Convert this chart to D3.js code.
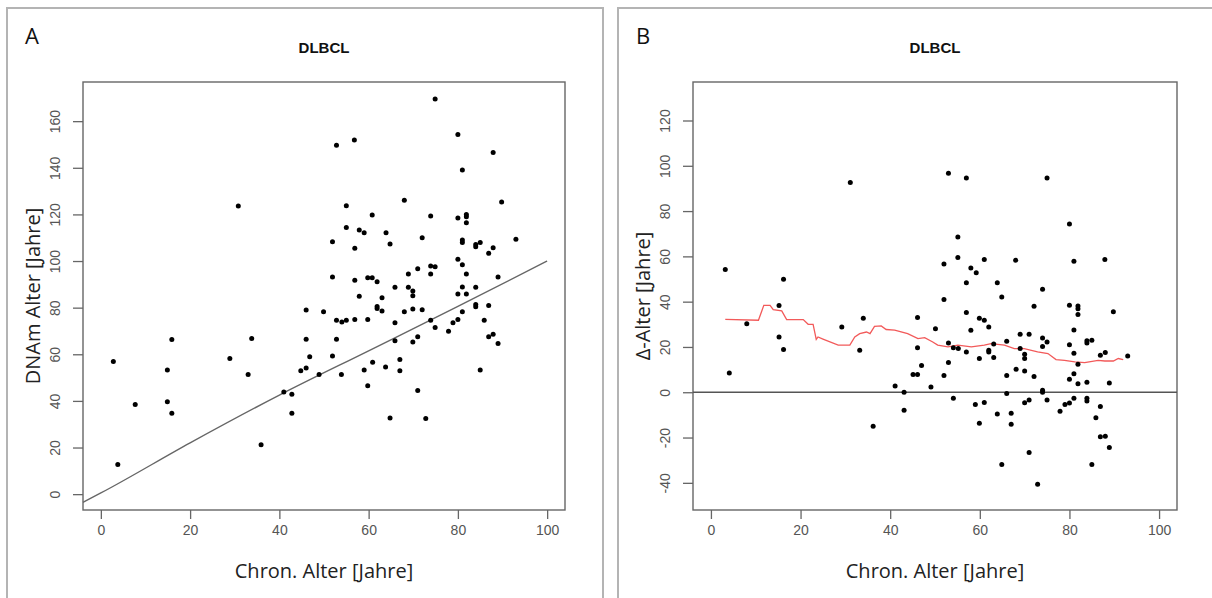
<!DOCTYPE html>
<html>
<head>
<meta charset="utf-8">
<script src="https://cdn.jsdelivr.net/npm/d3@7/dist/d3.min.js"></script>
<style>
  html, body { margin: 0; padding: 0; background: #fff; }
  svg { display: block; }
</style>
</head>
<body>
<svg id="chart" width="1212" height="598"></svg>
<script>
// DLBCL: chronological age vs. DNAm age (A) and age difference (B)

// Panel A: chronological age and DNAm age per sample
const chronAgeA = [2.8, 3.8, 7.7, 14.9, 14.9, 15.9, 15.9, 28.9, 30.8, 33.0, 33.8, 35.9, 41.0, 42.8, 42.8, 44.8, 46.0, 46.0, 46.0, 46.8,
  48.9, 49.9, 51.9, 51.9, 51.9, 52.8, 52.8, 52.8, 53.9, 54.0, 55.0, 55.0, 55.0, 56.8, 56.9, 56.9, 56.9, 57.9, 57.9, 59.0,
  59.0, 59.8, 59.8, 59.8, 60.8, 60.8, 60.9, 61.9, 61.9, 61.9, 63.0, 63.0, 63.8, 63.9, 64.8, 64.8, 65.9, 65.9, 65.9, 67.0,
  67.0, 68.0, 68.0, 68.9, 68.9, 69.9, 69.9, 69.9, 69.9, 71.0, 71.0, 71.0, 72.0, 72.0, 72.8, 73.9, 73.9, 73.9, 73.9, 74.9,
  74.9, 74.9, 77.9, 78.9, 80.0, 80.0, 80.0, 80.0, 80.0, 81.0, 81.0, 81.0, 81.0, 81.0, 81.0, 81.9, 81.9, 81.9, 81.9, 81.9,
  84.0, 84.0, 84.0, 84.0, 84.0, 85.0, 85.0, 85.9, 86.9, 86.9, 86.9, 87.9, 87.9, 87.9, 89.0, 89.0, 89.8, 93.0];
const dnamAge = [56.9, 12.7, 38.5, 53.3, 39.6, 66.3, 34.7, 58.2, 123.6, 51.3, 66.8, 21.2, 43.8, 42.9, 34.7, 52.9, 54.1, 66.4, 79.0, 58.9,
  51.3, 78.2, 59.3, 93.1, 108.3, 74.6, 66.4, 149.7, 51.3, 73.9, 74.6, 114.4, 123.7, 151.9, 105.5, 91.8, 74.9, 113.3, 84.9, 112.1,
  53.3, 92.8, 74.9, 46.5, 119.7, 92.8, 56.6, 91.1, 80.5, 79.6, 84.2, 78.6, 54.5, 112.1, 107.3, 32.7, 88.7, 73.5, 65.8, 57.8,
  52.9, 126.1, 78.2, 94.4, 88.7, 87.1, 85.1, 79.4, 65.3, 96.7, 67.5, 44.5, 110.0, 79.1, 32.5, 119.3, 97.9, 94.4, 74.6, 169.5,
  97.5, 71.5, 69.9, 73.5, 154.3, 118.5, 100.8, 85.9, 74.9, 139.0, 109.0, 108.0, 98.4, 88.9, 78.2, 120.0, 119.0, 116.4, 94.4, 85.9,
  107.1, 106.1, 88.7, 81.4, 80.4, 108.0, 53.3, 74.6, 103.3, 80.9, 67.5, 146.6, 105.7, 68.6, 93.1, 64.6, 125.3, 109.3];

// Reference curve drawn in panel A
const refCurveAge = [-4, 0, 20, 40, 60, 80, 100];
const refCurveDnam = [-3.5, 0.5, 22.0, 42.5, 61.5, 80.5, 100.0];

// Panel B: chronological age and delta age per sample
const chronAgeB = [3.2, 4.1, 8.0, 15.2, 15.2, 16.2, 16.2, 29.2, 31.1, 33.2, 34.0, 36.2, 41.1, 43.1, 43.1, 45.1, 46.1, 46.1, 46.1, 47.0,
  49.1, 50.1, 52.0, 52.0, 52.0, 53.0, 53.0, 53.0, 54.1, 54.1, 55.1, 55.1, 55.2, 57.0, 57.0, 57.0, 57.0, 58.0, 58.0, 59.2,
  59.0, 59.9, 59.9, 59.9, 61.0, 61.0, 61.0, 62.0, 62.0, 62.0, 63.1, 63.1, 63.9, 63.9, 64.9, 64.9, 66.0, 66.0, 66.0, 67.0,
  67.0, 68.0, 68.1, 69.0, 69.0, 70.0, 70.0, 70.0, 70.0, 71.0, 71.0, 71.0, 72.1, 72.1, 72.9, 74.0, 74.0, 74.0, 74.0, 74.0,
  75.0, 75.0, 75.0, 77.9, 79.0, 80.0, 80.0, 80.0, 80.0, 80.0, 81.0, 81.0, 81.0, 81.0, 81.0, 81.9, 81.9, 81.9, 81.9, 81.9,
  83.9, 83.9, 83.9, 83.9, 83.9, 85.0, 85.0, 85.9, 86.9, 86.9, 86.9, 88.0, 88.0, 87.9, 88.9, 88.9, 89.8, 93.0];
const deltaAge = [54.2, 8.5, 30.2, 38.3, 24.4, 49.9, 18.9, 28.8, 92.6, 18.5, 32.7, -15.0, 2.8, 0.0, -7.9, 7.8, 7.8, 19.7, 33.0, 11.8,
  2.3, 28.0, 56.6, 40.9, 7.4, 96.7, 21.8, 13.1, 19.7, -2.6, 68.6, 59.5, 19.3, 94.6, 48.4, 35.2, 17.8, 54.9, 27.4, 52.8,
  -5.4, 32.7, 14.9, -13.7, 58.6, 31.8, -4.5, 28.8, 18.5, 17.8, 21.3, 15.3, -9.6, 48.4, 42.1, -31.9, 22.5, 7.4, -0.6, -9.3,
  -14.1, 58.3, 10.2, 25.6, 19.3, 16.8, 14.9, 9.4, -4.6, 25.6, -3.4, -26.6, 38.0, 6.9, -40.6, 45.5, 24.0, 20.2, 0.9, 0.0,
  94.6, 22.2, -3.4, -8.4, -5.4, 74.3, 38.4, 21.0, 5.7, -4.7, 57.8, 27.5, 17.2, 8.2, -2.6, 38.1, 36.9, 34.3, 12.4, 3.7,
  22.7, 21.8, 4.4, -2.6, -3.9, 23.0, -31.9, -11.3, 16.3, -6.3, -19.7, 17.5, -19.4, 58.6, 4.1, -24.4, 35.5, 16.0];

// Running mean of delta age (red trace in panel B)
const trendAge = [3.2, 10.6, 11.8, 13.2, 13.9, 15.8, 16.9, 20.6, 21.7, 22.8, 23.5, 23.9, 25.0, 28.4, 31.0, 32.1, 33.2, 34.7, 35.5, 36.5,
  38.0, 39.1, 41.0, 43.9, 46.2, 47.7, 49.5, 50.6, 52.9, 55.1, 58.1, 61.0, 62.5, 65.5, 67.7, 69.9, 72.9, 75.2, 77.0, 78.9,
  81.2, 83.4, 86.4, 87.9, 89.8, 90.9, 92.0];
const trendDelta = [32.2, 31.8, 38.4, 38.4, 36.5, 35.9, 32.1, 32.1, 30.0, 30.0, 23.3, 24.4, 23.5, 20.8, 20.8, 24.4, 25.9, 26.6, 25.9, 29.1,
  29.3, 27.7, 27.4, 25.9, 23.7, 24.1, 22.2, 20.8, 20.0, 20.8, 20.0, 20.8, 21.5, 20.8, 19.3, 19.3, 17.8, 17.1, 14.4, 14.1,
  13.4, 13.1, 14.1, 13.8, 13.8, 14.9, 14.4];

const xTicks = [0, 20, 40, 60, 80, 100];
const yTicksA = [0, 20, 40, 60, 80, 100, 120, 140, 160];
const yTicksB = [-40, -20, 0, 20, 40, 60, 80, 100, 120];

// plain hyphen-minus tick labels
const tickText = d => String(d);

const svg = d3.select("#chart");
svg.append("rect").attr("width", 1212).attr("height", 598).attr("fill", "#fff");

const tickFont = "'Liberation Sans', Arial, sans-serif";
const labelFont = "'Open Sans', 'Noto Sans', sans-serif";
const axisGrey = "#666";

function drawPanel(opt) {
  // outer frame of the panel
  svg.append("rect")
    .attr("x", opt.frame[0]).attr("y", opt.frame[1])
    .attr("width", opt.frame[2]).attr("height", opt.frame[3])
    .attr("fill", "none").attr("stroke", "#b4b4b4").attr("stroke-width", 2);

  const x = d3.scaleLinear().domain([-4, 104]).range([opt.left, opt.right]);
  const y = d3.scaleLinear().domain(opt.yDomain).range([opt.bottom, opt.top]);
  const g = svg.append("g");

  // panel letter and title
  g.append("text").attr("x", opt.frame[0] + 18).attr("y", 44)
    .attr("font-family", labelFont).attr("font-size", 22).attr("fill", "#111")
    .text(opt.letter);
  g.append("text").attr("x", (opt.left + opt.right) / 2).attr("y", 53)
    .attr("text-anchor", "middle").attr("font-family", tickFont)
    .attr("font-weight", "bold").attr("font-size", 15).attr("fill", "#111")
    .text("DLBCL");

  // x axis
  const xa = g.append("g").attr("transform", `translate(0,${opt.bottom})`)
    .call(d3.axisBottom(x).tickValues(xTicks).tickSize(9).tickPadding(6).tickFormat(tickText));
  xa.select(".domain").remove();
  xa.selectAll("line").attr("stroke", axisGrey).attr("stroke-width", 1.3);
  xa.selectAll("text").attr("font-family", tickFont).attr("font-size", 14).attr("fill", "#555");

  // y axis with vertical labels
  const ya = g.append("g").attr("transform", `translate(${opt.left},0)`)
    .call(d3.axisLeft(y).tickValues(opt.yTicks).tickSize(10).tickFormat(tickText));
  ya.select(".domain").remove();
  ya.selectAll("line").attr("stroke", axisGrey).attr("stroke-width", 1.3);
  ya.selectAll("text")
    .attr("transform", "rotate(-90)")
    .attr("x", 0).attr("y", -23).attr("dy", 0)
    .attr("text-anchor", "middle")
    .attr("font-family", tickFont).attr("font-size", 14).attr("fill", "#555");

  // axis titles
  g.append("text").attr("x", (opt.left + opt.right) / 2).attr("y", 578)
    .attr("text-anchor", "middle").attr("font-family", labelFont)
    .attr("font-size", 20).attr("fill", "#222").text("Chron. Alter [Jahre]");
  g.append("text")
    .attr("transform", `translate(${opt.left - 43},${(opt.top + opt.bottom) / 2}) rotate(-90)`)
    .attr("text-anchor", "middle").attr("font-family", labelFont)
    .attr("font-size", 20).attr("fill", "#222").text(opt.yLabel);

  // plot box
  g.append("rect").attr("x", opt.left).attr("y", opt.top)
    .attr("width", opt.right - opt.left).attr("height", opt.bottom - opt.top)
    .attr("fill", "none").attr("stroke", axisGrey).attr("stroke-width", 1.4);

  return { g, x, y };
}

// Panel A
const A = drawPanel({
  letter: "A", frame: [7, 8, 596, 600],
  left: 83, right: 565, top: 82, bottom: 510,
  yDomain: [-6.8, 176.8], yTicks: yTicksA, yLabel: "DNAm Alter [Jahre]"
});
A.g.append("path")
  .datum(d3.zip(refCurveAge, refCurveDnam))
  .attr("d", d3.line().x(d => A.x(d[0])).y(d => A.y(d[1])).curve(d3.curveMonotoneX))
  .attr("fill", "none").attr("stroke", "#666").attr("stroke-width", 1.4);
A.g.append("g").selectAll("circle")
  .data(d3.zip(chronAgeA, dnamAge)).join("circle")
  .attr("cx", d => A.x(d[0])).attr("cy", d => A.y(d[1]))
  .attr("r", 2.5).attr("fill", "#000");

// Panel B
const B = drawPanel({
  letter: "B", frame: [618, 8, 610, 600],
  left: 693, right: 1177, top: 82, bottom: 510,
  yDomain: [-52, 137], yTicks: yTicksB, yLabel: "\u0394-Alter [Jahre]"
});
B.g.append("line")
  .attr("x1", B.x.range()[0]).attr("x2", B.x.range()[1])
  .attr("y1", B.y(0)).attr("y2", B.y(0))
  .attr("stroke", "#555").attr("stroke-width", 1.4);
B.g.append("path")
  .datum(d3.zip(trendAge, trendDelta))
  .attr("d", d3.line().x(d => B.x(d[0])).y(d => B.y(d[1])))
  .attr("fill", "none").attr("stroke", "#f25a5a").attr("stroke-width", 1.3);
B.g.append("g").selectAll("circle")
  .data(d3.zip(chronAgeB, deltaAge)).join("circle")
  .attr("cx", d => B.x(d[0])).attr("cy", d => B.y(d[1]))
  .attr("r", 2.5).attr("fill", "#000");
</script>
</body>
</html>
